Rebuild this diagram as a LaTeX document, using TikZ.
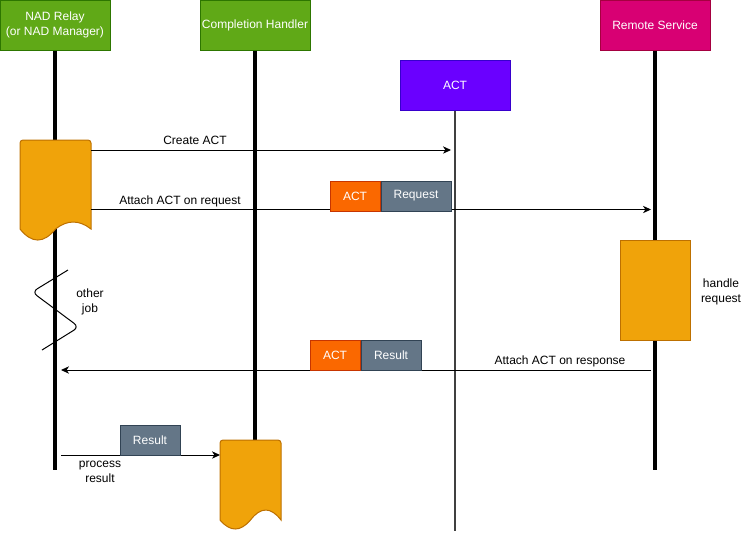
\documentclass[tikz,border=0pt]{standalone}
\usepackage{fontspec}
\setmainfont{Liberation Sans}
\usetikzlibrary{arrows.meta}
\definecolor{hdrgreen}{HTML}{60A917}
\definecolor{hdrgreenline}{HTML}{2D7600}
\definecolor{actpurple}{HTML}{6A00FF}
\definecolor{actpurpleline}{HTML}{3700CC}
\definecolor{remotepink}{HTML}{D80073}
\definecolor{remotepinkline}{HTML}{A50040}
\definecolor{actorange}{HTML}{FA6800}
\definecolor{actorangeline}{HTML}{C73500}
\definecolor{slate}{HTML}{647687}
\definecolor{slateline}{HTML}{314354}
\definecolor{docorange}{HTML}{F0A30A}
\definecolor{docorangeline}{HTML}{BD7000}
\begin{document}
\begin{tikzpicture}[x=0.75pt,y=-0.75pt,
  every node/.style={font=\fontsize{9}{11.25}\selectfont},
  hdr/.style={draw, line width=0.75pt, text=white, minimum width=82.5pt, minimum height=37.5pt, inner sep=0pt, align=center},
  tag/.style={draw, line width=0.75pt, text=white, minimum height=22.5pt, inner sep=0pt},
  lifeline/.style={line width=3pt},
  thinlife/.style={line width=1.5pt, draw=black!75},
  msg/.style={line width=0.75pt, -{Stealth[length=6pt,width=5.5pt,inset=1.8pt]}},
  docst/.style={fill=docorange, draw=docorangeline, line width=0.75pt},
  lbl/.style={align=center, inner sep=0pt}
]
\useasboundingbox (0,0) rectangle (741,533);

% headers
\node[hdr, fill=hdrgreen, draw=hdrgreenline] (relay) at (55,25) {NAD Relay\\(or NAD Manager)};
\node[hdr, fill=hdrgreen, draw=hdrgreenline] (handler) at (255,25) {Completion Handler};
\node[hdr, fill=actpurple, draw=actpurpleline] (act) at (455,85) {ACT};
\node[hdr, fill=remotepink, draw=remotepinkline] (remote) at (655,25) {Remote Service};

% lifelines
\coordinate (relayEnd) at (55,470);
\coordinate (handlerEnd) at (255,440);
\coordinate (actEnd) at (455,531);
\coordinate (remoteEnd) at (655,470);
\draw[lifeline] (relay.south) -- (relayEnd);
\draw[lifeline] (handler.south) -- (handlerEnd);
\draw[thinlife] (act.south) -- (actEnd);
\draw[lifeline] (remote.south) -- (remoteEnd);

% document shapes
\node[anchor=north west, minimum width=53.25pt, minimum height=75pt, inner sep=0pt] (relaydoc) at (20,140) {};
\begin{scope}[shift={(relaydoc.north west)}]
\draw[docst] (0,89) -- (0,3) .. controls (0,1.3) and (1.3,0) .. (3,0) -- (68,0)
  .. controls (69.7,0) and (71,1.3) .. (71,3) -- (71,89)
  .. controls (59.2,79.7) and (47.3,79.7) .. (35.5,89)
  .. controls (23.7,103.7) and (11.8,103.7) .. (0,89) -- cycle;
\end{scope}
\node[anchor=north west, minimum width=45.75pt, minimum height=67.5pt, inner sep=0pt] (handlerdoc) at (220,440) {};
\begin{scope}[shift={(handlerdoc.north west)}]
\draw[docst] (0,80) -- (0,3) .. controls (0,1.3) and (1.3,0) .. (3,0) -- (58,0)
  .. controls (59.7,0) and (61,1.3) .. (61,3) -- (61,80)
  .. controls (50.8,66.7) and (40.7,66.7) .. (30.5,80)
  .. controls (20.3,92) and (10.2,92) .. (0,80) -- cycle;
\end{scope}
\node[draw=docorangeline, fill=docorange, line width=0.75pt, minimum width=52.5pt, minimum height=75pt, inner sep=0pt] (remoteact) at (655,290) {};

% messages
\coordinate (m1a) at (91,150);
\coordinate (m1b) at (451,150);
\coordinate (m2a) at (91,209.5);
\coordinate (m2b) at (651,209.5);
\coordinate (m3a) at (651,370);
\coordinate (m3b) at (61,370);
\coordinate (m4a) at (61,455);
\draw[msg] (m1a) -- (m1b);
\draw[msg] (m2a) -- (m2b);
\draw[msg] (m3a) -- (m3b);
\draw[msg] (m4a) -- (handlerdoc.west |- m4a);

% payload tags
\node[tag, fill=actorange, draw=actorangeline, minimum width=37.5pt] (tag1) at (355,196) {ACT};
\node[tag, fill=slate, draw=slateline, minimum width=52.5pt, anchor=west] (req) at (tag1.east) {Request};
\node[tag, fill=actorange, draw=actorangeline, minimum width=37.5pt] (tag2) at (335,355) {ACT};
\node[tag, fill=slate, draw=slateline, minimum width=45pt, anchor=west] (res1) at (tag2.east) {Result};
\node[tag, fill=slate, draw=slateline, minimum width=45pt] (res2) at (150,440) {Result};

% other job break
\draw[line width=0.75pt, rounded corners=4.5pt] (68,270) -- (32,292) -- (79,327) -- (42,350);

% labels
\node[lbl] (l1) at (195,140) {Create ACT};
\node[lbl] (l2) at (180,201) {Attach ACT on request};
\node[lbl] (l3) at (560,361) {Attach ACT on response};
\node[lbl] (l4) at (721,292) {handle\\request};
\node[lbl] (l5) at (90,302) {other\\job};
\node[lbl] (l6) at (100,472) {process\\result};
\end{tikzpicture}
\end{document}
